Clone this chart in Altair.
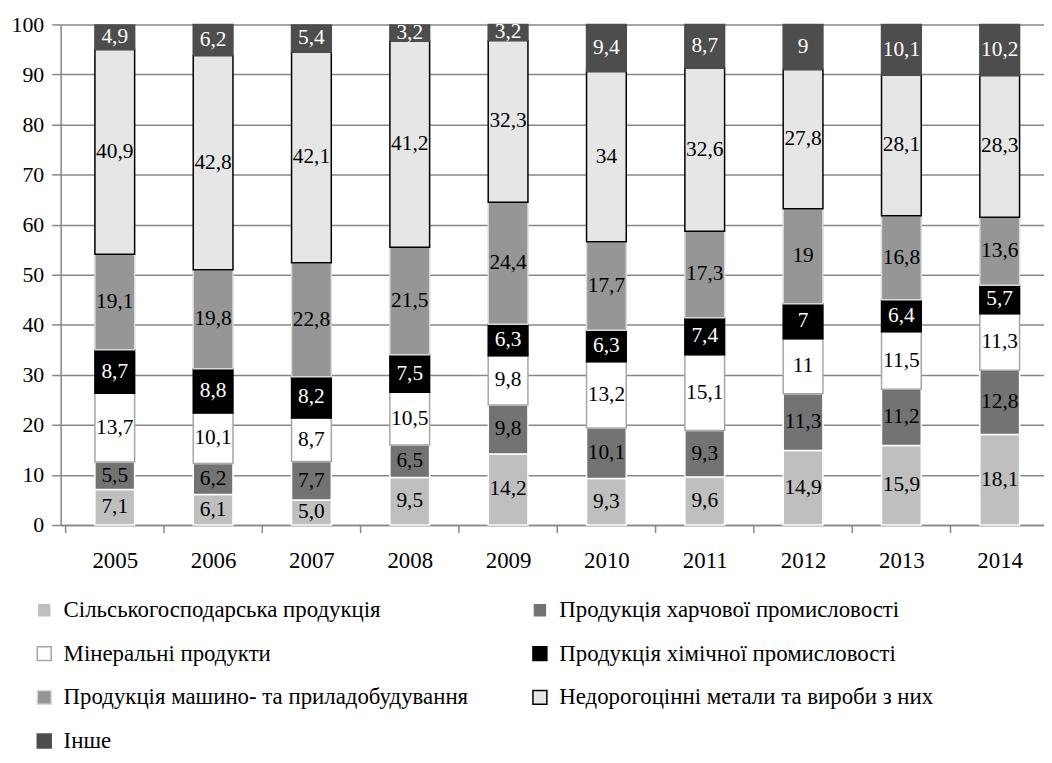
import altair as alt
import pandas as pd

years = [2005, 2006, 2007, 2008, 2009, 2010, 2011, 2012, 2013, 2014]

categories = [
    "Сільськогосподарська продукція",
    "Продукція харчової промисловості",
    "Мінеральні продукти",
    "Продукція хімічної промисловості",
    "Продукція машино- та приладобудування",
    "Недорогоцінні метали та вироби з них",
    "Інше",
]

agri = ["7,1", "6,1", "5,0", "9,5", "14,2", "9,3", "9,6", "14,9", "15,9", "18,1"]
food = ["5,5", "6,2", "7,7", "6,5", "9,8", "10,1", "9,3", "11,3", "11,2", "12,8"]
mineral = ["13,7", "10,1", "8,7", "10,5", "9,8", "13,2", "15,1", "11", "11,5", "11,3"]
chem = ["8,7", "8,8", "8,2", "7,5", "6,3", "6,3", "7,4", "7", "6,4", "5,7"]
mach = ["19,1", "19,8", "22,8", "21,5", "24,4", "17,7", "17,3", "19", "16,8", "13,6"]
metals = ["40,9", "42,8", "42,1", "41,2", "32,3", "34", "32,6", "27,8", "28,1", "28,3"]
other = ["4,9", "6,2", "5,4", "3,2", "3,2", "9,4", "8,7", "9", "10,1", "10,2"]

series = [agri, food, mineral, chem, mach, metals, other]

fills = ["#bfbfbf", "#737373", "#ffffff", "#000000", "#969696", "#e6e6e6", "#4d4d4d"]
strokes = ["#ffffff", "#ffffff", "#a6a6a6", "#000000", "#d9d9d9", "#000000", "#4d4d4d"]
text_colors = ["black", "black", "black", "white", "black", "black", "white"]

rows = []
for k, (cat, vals) in enumerate(zip(categories, series)):
    for yr, lab in zip(years, vals):
        rows.append({
            "year": yr,
            "cat": cat,
            "ord": k,
            "value": float(lab.replace(",", ".")),
            "label": lab,
            "tc": text_colors[k],
        })
df = pd.DataFrame(rows)

# category boundaries (between adjacent years) for the x-axis tick marks
bounds = pd.DataFrame({"b": [y - 0.5 for y in years]})

FONT = "Liberation Serif"
GRID = "#878787"

xscale = alt.Scale(domain=[2004.5, 2014.4], nice=False, zero=False)
yscale = alt.Scale(domain=[0, 100], nice=False)

legend = alt.Legend(
    title=None, orient="none", legendX=-28, legendY=578, columns=2,
    direction="horizontal", columnPadding=60, rowPadding=20,
    symbolType="square", symbolSize=196, symbolStrokeWidth=1.5,
    labelFontSize=23, labelOffset=8, labelFont=FONT,
    labelColor="black", labelLimit=700,
)

x_axis = alt.Axis(
    values=years, format="d", ticks=False, labelFlush=False, labelOverlap=False,
    labelFontSize=23, labelFont=FONT, labelColor="black", labelPadding=25,
    domainColor=GRID, domainWidth=1.5, grid=False, title=None,
)
y_axis = alt.Axis(
    values=list(range(0, 101, 10)), grid=True, gridColor=GRID, gridWidth=1.5,
    domainColor=GRID, domainWidth=1.5, tickColor=GRID, tickWidth=1.5,
    tickSize=9, labelFontSize=22, labelFont=FONT, labelColor="black",
    labelPadding=8, title=None,
)

base = alt.Chart(df).transform_stack(
    stack="value", groupby=["year"], as_=["y0", "y1"],
    sort=[alt.SortField("ord", order="ascending")],
).transform_calculate(mid="(datum.y0 + datum.y1) / 2")

bars = base.mark_bar(size=40, strokeWidth=1.5).encode(
    x=alt.X("year:Q", scale=xscale, axis=x_axis),
    y=alt.Y("y0:Q", scale=yscale, axis=y_axis),
    y2="y1:Q",
    fill=alt.Fill("cat:N", scale=alt.Scale(domain=categories, range=fills), legend=legend),
    stroke=alt.Stroke("cat:N", scale=alt.Scale(domain=categories, range=strokes), legend=legend),
    order=alt.Order("ord:Q"),
)

texts = base.mark_text(fontSize=21.5, font=FONT, baseline="middle", align="center").encode(
    x=alt.X("year:Q", scale=xscale, axis=x_axis),
    y=alt.Y("mid:Q", scale=yscale, axis=y_axis),
    text="label:N",
    color=alt.Color("tc:N", scale=None),
)

ticks = alt.Chart(bounds).mark_rule(color=GRID, strokeWidth=1.5).encode(
    x=alt.X("b:Q", scale=xscale, axis=x_axis),
    y=alt.value(504),
    y2=alt.value(512),
)

chart = alt.layer(bars, texts, ticks).properties(
    width=990, height=504,
    autosize=alt.AutoSizeParams(type="none"),
    padding={"left": 53, "top": 14, "right": 0, "bottom": 229},
    background="white",
).configure_view(stroke=None)

chart.save("out.html", embed_options={"renderer": "svg", "actions": False})
